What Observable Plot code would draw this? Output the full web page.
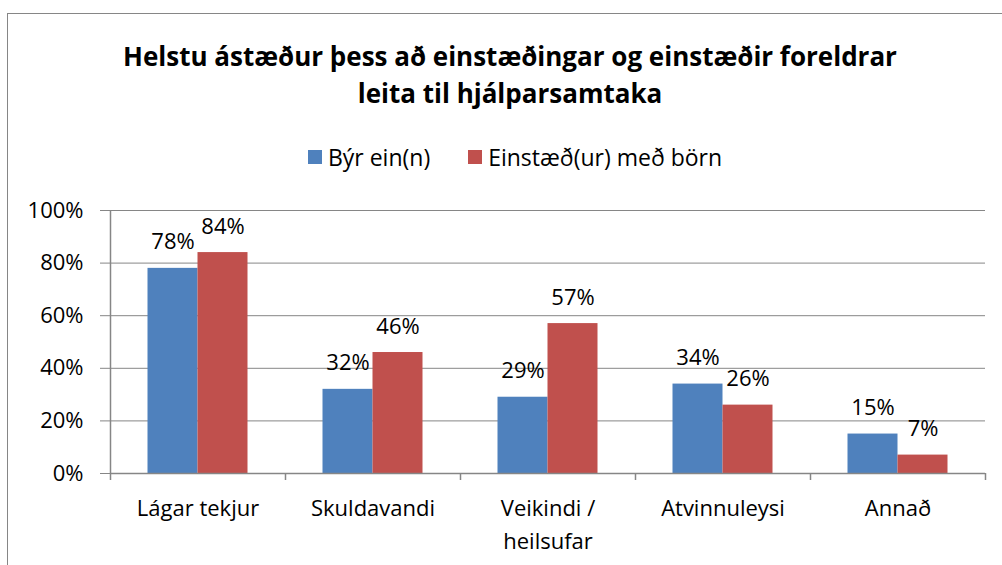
<!DOCTYPE html>
<html><head><meta charset="utf-8">
<script src="https://cdn.jsdelivr.net/npm/d3@7"></script>
<script src="https://cdn.jsdelivr.net/npm/@observablehq/plot@0.6"></script>
<style>
html,body{margin:0;padding:0;background:#fff;overflow:hidden;}
#wrap{position:relative;width:1002px;height:565px;overflow:hidden;font-family:"Open Sans",sans-serif;color:#000;}
#frame{position:absolute;left:7px;top:13px;width:1030px;height:620px;border:1.5px solid #868686;box-sizing:border-box;}
#title{position:absolute;left:0;top:38px;width:1020px;text-align:center;font-weight:bold;font-size:26px;line-height:37px;}
#legend{position:absolute;left:0;top:142px;width:1030px;display:flex;justify-content:center;align-items:center;font-size:23px;line-height:30px;}
#legend .item{display:flex;align-items:center;margin:0 19px;}
#legend .sw{width:14px;height:14px;margin-right:6px;}
#chart{position:absolute;left:0;top:185px;}
</style></head>
<body>
<div id="wrap">
  <div id="frame"></div>
  <div id="title">Helstu ástæður þess að einstæðingar og einstæðir foreldrar<br>leita til hjálparsamtaka</div>
  <div id="legend"></div>
  <div id="chart"></div>
</div>
<script>
const categories = ["Lágar tekjur", "Skuldavandi", "Veikindi /\nheilsufar", "Atvinnuleysi", "Annað"];
const series = ["Býr ein(n)", "Einstæð(ur) með börn"];
const aloneValues = [0.78, 0.32, 0.29, 0.34, 0.15];
const parentValues = [0.84, 0.46, 0.57, 0.26, 0.07];
const yTicks = [0, 0.2, 0.4, 0.6, 0.8, 1.0];
const colors = ["#4F81BD", "#C0504D"];

const alone = categories.map((c, i) => ({cat: c, value: aloneValues[i]}));
const parents = categories.map((c, i) => ({cat: c, value: parentValues[i]}));

// legend
const legend = document.getElementById("legend");
series.forEach((s, i) => {
  const it = document.createElement("div");
  it.className = "item";
  it.innerHTML = `<span class="sw" style="background:${colors[i]}"></span><span>${s}</span>`;
  legend.appendChild(it);
});

const W = 1002, H = 380, mL = 110, mR = 17, mT = 25, mB = 92;
const band = (W - mL - mR) / categories.length;
const half = band / 2;
const barW = 50;
const grid = "#868686";
const tickLen = 7 / (H - mT - mB);
const pct = d => Math.round(d.value * 100) + "%";

const chart = Plot.plot({
  width: W, height: H,
  marginLeft: mL, marginRight: mR, marginTop: mT, marginBottom: mB,
  style: {fontFamily: "'Open Sans', sans-serif", background: "transparent", color: "#000"},
  x: {domain: categories, padding: 0, axis: null},
  y: {domain: [0, 1], axis: null},
  marks: [
    Plot.gridY(yTicks, {stroke: grid, strokeOpacity: 1, strokeWidth: 1}),
    Plot.axisY({ticks: yTicks, tickFormat: d3.format(".0%"), tickSize: 10, tickPadding: 17,
      fontSize: 22, stroke: grid, fill: "#000", label: null}),
    Plot.barY(alone, {x: "cat", y: "value", fill: colors[0], insetLeft: half - barW, insetRight: half}),
    Plot.barY(parents, {x: "cat", y: "value", fill: colors[1], insetLeft: half, insetRight: half - barW}),
    Plot.ruleY([0], {stroke: grid, strokeWidth: 1.5}),
    Plot.ruleX(categories, {x: d => d, dx: -half, y1: -tickLen, y2: d => d === categories[0] ? 1 : 0, stroke: grid, strokeWidth: 1.5}),
    Plot.ruleX([categories[categories.length - 1]], {x: d => d, dx: half, y1: -tickLen, y2: 0, stroke: grid, strokeWidth: 1.5}),
    Plot.text(alone, {x: "cat", y: "value", text: pct, dx: -barW / 2, dy: -26, fontSize: 22, fill: "#000"}),
    Plot.text(parents, {x: "cat", y: "value", text: pct, dx: barW / 2, dy: -26, fontSize: 22, fill: "#000"}),
    Plot.text(categories, {x: d => d, y: () => 0, text: d => d, lineAnchor: "top", dy: 19, lineHeight: 1.5, fontSize: 22, fill: "#000"})
  ]
});
document.getElementById("chart").appendChild(chart);
</script>
</body></html>
